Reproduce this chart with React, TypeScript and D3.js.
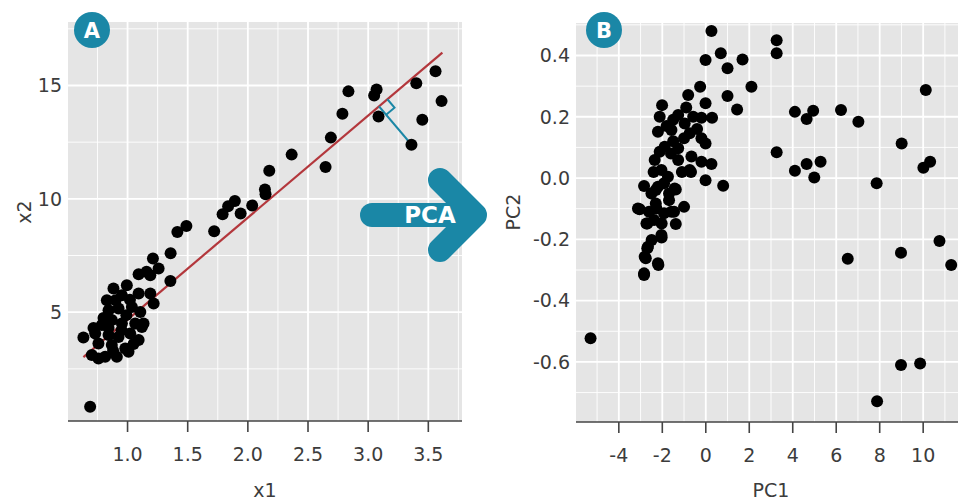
import React, { useRef, useEffect } from 'react';
import * as d3 from 'd3';

// panel A: raw data (x1, x2)
const pointsA: [number, number][] = [
  [0.689, 0.83],
  [0.633, 3.88], [0.731, 4.06], [0.842, 3.99], [0.925, 3.91], [1.022, 4.06], [1.119, 4.35],
  [0.758, 3.62], [0.869, 3.55], [0.981, 3.40], [0.703, 3.11], [0.814, 3.03], [0.911, 3.03], [1.008, 3.25], [0.758, 2.96],
  [0.869, 4.65], [0.786, 4.43], [0.953, 4.50], [1.064, 4.50], [1.133, 4.50],
  [0.842, 5.09], [0.925, 5.16], [1.036, 5.23], [1.106, 5.01],
  [0.828, 5.53], [0.953, 5.75], [1.092, 5.82], [1.189, 5.82], [1.217, 5.38],
  [0.883, 6.04], [0.994, 6.19], [1.158, 6.78],
  [0.90, 5.53], [0.99, 4.87], [0.80, 4.74], [0.717, 4.30], [1.092, 3.77], [0.842, 4.30],
  [0.88, 3.30], [1.05, 3.60], [0.95, 4.20], [1.02, 5.55],
  [1.358, 7.60], [1.211, 7.37], [1.258, 6.93], [1.189, 6.63], [1.092, 6.67], [1.356, 6.38],
  [1.489, 8.80], [1.414, 8.54], [1.72, 8.57], [1.79, 9.32], [1.836, 9.67], [1.892, 9.90],
  [1.94, 9.35], [2.036, 9.71], [2.147, 10.20], [2.142, 10.41], [2.178, 11.24], [2.364, 11.95],
  [2.646, 11.40], [2.69, 12.70], [2.786, 13.75], [2.836, 14.74], [3.07, 14.82], [3.05, 14.56],
  [3.086, 13.63], [3.36, 12.39], [3.40, 15.10], [3.56, 15.63], [3.61, 14.31], [3.45, 13.49],
];

// first principal axis drawn through panel A
const fitLineA: [number, number][] = [[0.633, 3.02], [3.617, 16.45]];
const projectedPointA: [number, number] = [3.36, 12.39];

// panel B: scores (PC1, PC2)
const pointsB: [number, number][] = [
  [0.26, 0.48], [3.26, 0.45], [3.26, 0.407], [0.69, 0.407], [-0.01, 0.385], [1.69, 0.387],
  [1.0, 0.358], [2.10, 0.298], [-0.26, 0.298], [1.0, 0.268], [-0.01, 0.244], [1.44, 0.224],
  [10.12, 0.287], [4.10, 0.216], [4.94, 0.22], [4.64, 0.193], [6.22, 0.222], [7.02, 0.184],
  [9.01, 0.113], [3.26, 0.084], [4.10, 0.024], [4.64, 0.046], [5.28, 0.053], [4.99, 0.002],
  [7.86, -0.017], [10.32, 0.053], [10.01, 0.034], [0.80, -0.025], [-0.01, -0.007], [0.26, 0.046],
  [-0.2, 0.053], [-0.01, 0.113], [-0.2, 0.13], [0.29, 0.197], [-0.2, 0.197],
  [10.75, -0.205], [8.98, -0.244], [6.53, -0.263], [11.29, -0.284], [-5.30, -0.523],
  [8.98, -0.61], [9.86, -0.605], [7.88, -0.728],
  [-0.68, 0.02], [-0.81, 0.271],
  [-2.84, -0.316], [-2.18, -0.284], [-2.76, -0.262], [-2.69, -0.229], [-2.49, -0.202], [-2.03, -0.194],
  [-1.38, -0.150], [-2.69, -0.148], [-2.38, -0.137], [-2.03, -0.148], [-1.0, -0.094], [-3.04, -0.102],
  [-2.61, -0.11], [-1.92, -0.115], [-1.46, -0.11], [-2.30, -0.083], [-1.69, -0.072], [-2.84, -0.026],
  [-2.30, -0.039], [-1.38, -0.037], [-1.92, -0.017], [-1.69, -0.05],
  [-2.01, 0.238], [-1.27, 0.206], [-0.58, 0.2], [-2.12, 0.2], [-0.97, 0.178], [-2.2, 0.151],
  [-1.58, 0.157], [-0.74, 0.146], [-1.89, 0.102], [-1.27, 0.097], [-2.12, 0.086], [-0.66, 0.07],
  [-2.35, 0.059], [-1.27, 0.059], [-0.74, 0.026], [-2.04, 0.026], [-1.74, 0.004], [-2.2, -0.028],
  [-1.43, -0.034], [-3.12, -0.099], [-2.27, -0.099], [-1.58, -0.11], [-2.73, -0.148], [-2.04, -0.186],
  [-2.66, -0.224], [-2.2, -0.278], [-2.81, -0.257], [-2.84, -0.311],
  [-1.5, 0.12], [-1.0, 0.13], [-1.8, 0.17], [-0.4, 0.16], [-2.4, 0.02], [-1.1, 0.02],
  [-1.6, 0.08], [-2.5, -0.05], [-0.9, 0.23], [-1.5, 0.19],
];

const xTicksA = [1.0, 1.5, 2.0, 2.5, 3.0, 3.5];
const yTicksA = [5, 10, 15];
const xTicksB = [-4, -2, 0, 2, 4, 6, 8, 10];
const yTicksB = [-0.6, -0.4, -0.2, 0.0, 0.2, 0.4];

const TEAL = '#1a87a6';
const FONT = 'DejaVu Sans, Verdana, sans-serif';

const App = () => {
  const svgRef = useRef<SVGSVGElement>(null);

  useEffect(() => {
    const svg = d3.select(svgRef.current);
    svg.selectAll('*').remove();

    const drawPanel = (opts: any) => {
      const { x, y, xTicks, yTicks, xMinor, yMinor, xFmt, yFmt, xTitle, yTitle, yTitleX, points, badge, badgeX } = opts;
      const [x0, x1] = x.range();
      const [y0, y1] = y.range(); // y0 bottom, y1 top
      const g = svg.append('g');

      g.append('rect')
        .attr('x', x0).attr('y', y1)
        .attr('width', x1 - x0).attr('height', y0 - y1)
        .attr('fill', '#e5e5e5');

      // minor grid
      xMinor.forEach((v: number) => {
        g.append('line').attr('x1', x(v)).attr('x2', x(v)).attr('y1', y1).attr('y2', y0)
          .attr('stroke', 'white').attr('stroke-width', 0.9);
      });
      yMinor.forEach((v: number) => {
        g.append('line').attr('x1', x0).attr('x2', x1).attr('y1', y(v)).attr('y2', y(v))
          .attr('stroke', 'white').attr('stroke-width', 0.9);
      });
      // major grid
      xTicks.forEach((v: number) => {
        g.append('line').attr('x1', x(v)).attr('x2', x(v)).attr('y1', y1).attr('y2', y0)
          .attr('stroke', 'white').attr('stroke-width', 1.8);
      });
      yTicks.forEach((v: number) => {
        g.append('line').attr('x1', x0).attr('x2', x1).attr('y1', y(v)).attr('y2', y(v))
          .attr('stroke', 'white').attr('stroke-width', 1.8);
      });

      // bottom axis line + ticks
      g.append('line').attr('x1', x0).attr('x2', x1).attr('y1', y0).attr('y2', y0)
        .attr('stroke', '#444').attr('stroke-width', 1.6);
      xTicks.forEach((v: number) => {
        g.append('line').attr('x1', x(v)).attr('x2', x(v)).attr('y1', y0).attr('y2', y0 + 11)
          .attr('stroke', '#444').attr('stroke-width', 1.6);
        g.append('text')
          .attr('x', x(v)).attr('y', y0 + 40)
          .attr('text-anchor', 'middle')
          .attr('fill', '#3c3c3c')
          .style('font-family', FONT).style('font-size', '19px')
          .text(xFmt(v));
      });
      yTicks.forEach((v: number) => {
        g.append('text')
          .attr('x', x0 - 6).attr('y', y(v)).attr('dy', '0.36em')
          .attr('text-anchor', 'end')
          .attr('fill', '#3c3c3c')
          .style('font-family', FONT).style('font-size', '19px')
          .text(yFmt(v));
      });

      g.append('text')
        .attr('x', (x0 + x1) / 2).attr('y', 497)
        .attr('text-anchor', 'middle')
        .attr('fill', '#3c3c3c')
        .style('font-family', FONT).style('font-size', '19px')
        .text(xTitle);

      g.append('text')
        .attr('transform', `translate(${yTitleX},212) rotate(-90)`)
        .attr('text-anchor', 'middle')
        .attr('fill', '#3c3c3c')
        .style('font-family', FONT).style('font-size', '19px')
        .text(yTitle);

      opts.extra && opts.extra(g);

      g.selectAll('circle.pt')
        .data(points)
        .join('circle')
        .attr('class', 'pt')
        .attr('cx', (d: any) => x(d[0]))
        .attr('cy', (d: any) => y(d[1]))
        .attr('r', 6)
        .attr('fill', '#000');

      // letter badge
      g.append('circle').attr('cx', badgeX).attr('cy', 30).attr('r', 18).attr('fill', TEAL);
      g.append('text')
        .attr('x', badgeX).attr('y', 30).attr('dy', '0.36em')
        .attr('text-anchor', 'middle')
        .attr('fill', 'white')
        .style('font-family', FONT).style('font-weight', 'bold').style('font-size', '21px')
        .text(badge);
    };

    // ---- panel A
    const xA = d3.scaleLinear().domain([0.505, 3.78]).range([68, 462]);
    const yA = d3.scaleLinear().domain([0.2, 17.8]).range([421, 22]);
    drawPanel({
      x: xA, y: yA,
      xTicks: xTicksA, yTicks: yTicksA,
      xMinor: d3.range(0.75, 3.8, 0.5), yMinor: [2.5, 7.5, 12.5, 17.5],
      xFmt: d3.format('.1f'), yFmt: (v: number) => String(v),
      xTitle: 'x1', yTitle: 'x2', yTitleX: 31,
      points: pointsA, badge: 'A', badgeX: 92,
      extra: (g: any) => {
        const p1 = [xA(fitLineA[0][0]), yA(fitLineA[0][1])];
        const p2 = [xA(fitLineA[1][0]), yA(fitLineA[1][1])];
        g.append('line')
          .attr('x1', p1[0]).attr('y1', p1[1]).attr('x2', p2[0]).attr('y2', p2[1])
          .attr('stroke', '#b3373c').attr('stroke-width', 2.2);
        // perpendicular projection of one point (pixel space)
        const P = [xA(projectedPointA[0]), yA(projectedPointA[1])];
        const len = Math.hypot(p2[0] - p1[0], p2[1] - p1[1]);
        const u = [(p2[0] - p1[0]) / len, (p2[1] - p1[1]) / len];
        const t = (P[0] - p1[0]) * u[0] + (P[1] - p1[1]) * u[1];
        const F = [p1[0] + t * u[0], p1[1] + t * u[1]];
        const dl = Math.hypot(P[0] - F[0], P[1] - F[1]);
        const n = [(P[0] - F[0]) / dl, (P[1] - F[1]) / dl];
        const s = 11;
        g.append('line')
          .attr('x1', F[0]).attr('y1', F[1]).attr('x2', P[0]).attr('y2', P[1])
          .attr('stroke', TEAL).attr('stroke-width', 2.2);
        g.append('path')
          .attr('d', `M${F[0] + s * u[0]},${F[1] + s * u[1]} L${F[0] + s * u[0] + s * n[0]},${F[1] + s * u[1] + s * n[1]} L${F[0] + s * n[0]},${F[1] + s * n[1]}`)
          .attr('fill', 'none').attr('stroke', TEAL).attr('stroke-width', 2);
      },
    });

    // ---- panel B
    const xB = d3.scaleLinear().domain([-5.97, 11.97]).range([576, 966]);
    const yB = d3.scaleLinear().domain([-0.796, 0.506]).range([422, 23]);
    drawPanel({
      x: xB, y: yB,
      xTicks: xTicksB, yTicks: yTicksB,
      xMinor: d3.range(-5, 12, 2), yMinor: [-0.7, -0.5, -0.3, -0.1, 0.1, 0.3, 0.5],
      xFmt: (v: number) => String(v), yFmt: (v: number) => d3.format('.1f')(v).replace('−', '-'),
      xTitle: 'PC1', yTitle: 'PC2', yTitleX: 520,
      points: pointsB, badge: 'B', badgeX: 604,
    });

    // ---- PCA arrow
    const arrow = svg.append('g');
    arrow.append('line')
      .attr('x1', 372).attr('y1', 215).attr('x2', 470).attr('y2', 215)
      .attr('stroke', TEAL).attr('stroke-width', 24).attr('stroke-linecap', 'round');
    arrow.append('path')
      .attr('d', 'M440,180 L475,215 L440,250')
      .attr('fill', 'none').attr('stroke', TEAL).attr('stroke-width', 24)
      .attr('stroke-linecap', 'round').attr('stroke-linejoin', 'round');
    arrow.append('text')
      .attr('x', 430).attr('y', 215).attr('dy', '0.36em')
      .attr('text-anchor', 'middle')
      .attr('fill', 'white')
      .style('font-family', FONT).style('font-weight', 'bold').style('font-size', '23px')
      .text('PCA');
  }, []);

  return (
    <svg
      ref={svgRef}
      width={958}
      height={500}
      style={{ position: 'absolute', left: 0, top: 0, background: 'white' }}
    />
  );
};

export default App;
